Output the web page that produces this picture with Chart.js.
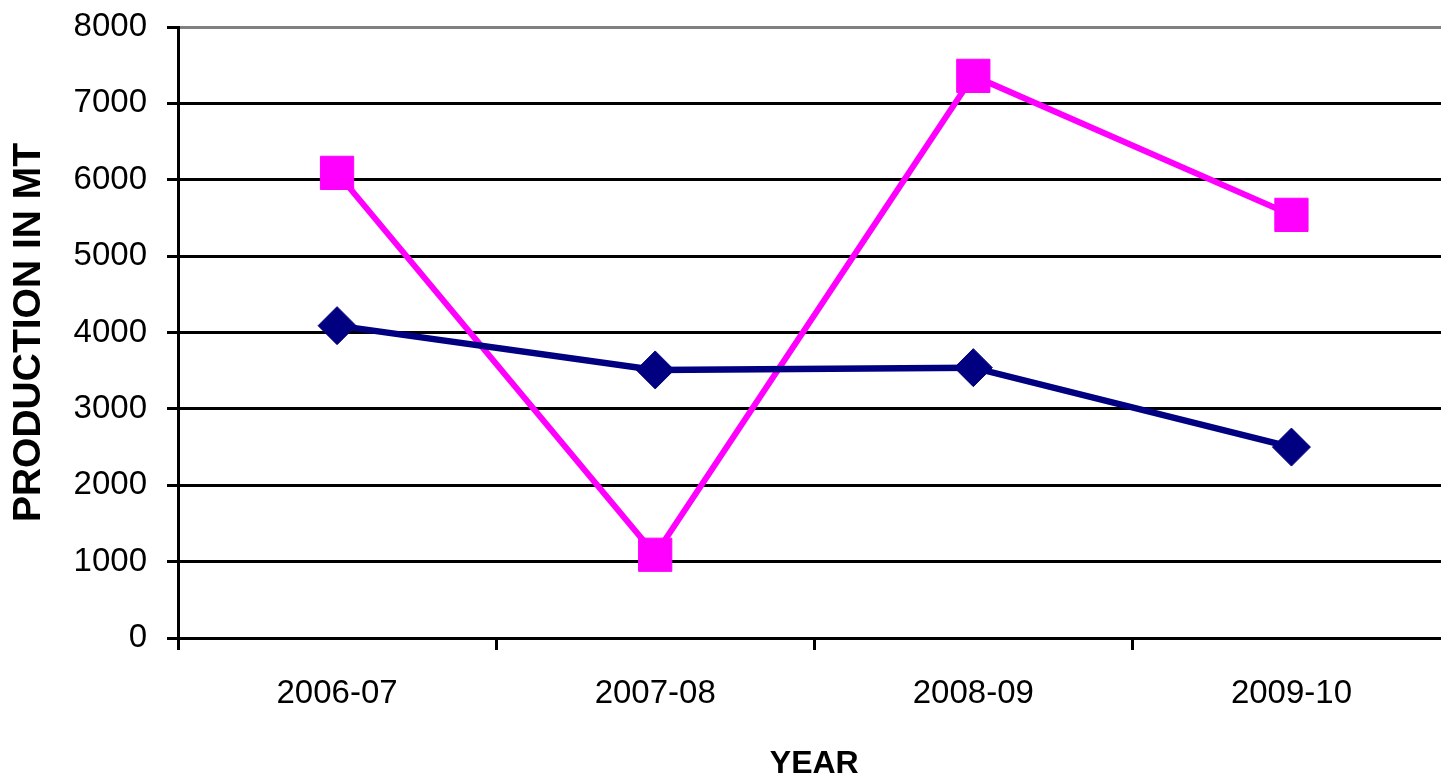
<!DOCTYPE html>
<html>
<head>
<meta charset="utf-8">
<script src="https://cdn.jsdelivr.net/npm/chart.js@4/dist/chart.umd.min.js"></script>
<style>
    html, body { margin: 0; padding: 0; background: #fff; overflow: hidden; }
    #wrap { width: 1441px; height: 784px; overflow: hidden; }
    canvas { display: block; }
</style>
</head>
<body>
<div id="wrap"><canvas id="chart_production" width="1475" height="784" style="width:1475px;height:784px"></canvas></div>
<script>
const years = ["2006-07", "2007-08", "2008-09", "2009-10"];
const navy_series = [4090, 3510, 3540, 2500];
const pink_series = [6090, 1090, 7360, 5540];
const y_ticks = [0, 1000, 2000, 3000, 4000, 5000, 6000, 7000, 8000];

const font_family = "'Liberation Sans', Arial, sans-serif";

new Chart(document.getElementById("chart_production"), {
    type: "line",
    data: {
        labels: years,
        datasets: [
            {
                label: "Series 1",
                data: navy_series,
                borderColor: "#000080",
                backgroundColor: "#000080",
                borderWidth: 6.5,
                pointStyle: "rectRot",
                pointRadius: 19,
                pointBorderWidth: 1,
                tension: 0
            },
            {
                label: "Series 2",
                data: pink_series,
                borderColor: "#ff00ff",
                backgroundColor: "#ff00ff",
                borderWidth: 6,
                pointStyle: "rect",
                pointRadius: 23.5,
                pointBorderWidth: 1,
                tension: 0
            }
        ]
    },
    options: {
        responsive: false,
        animation: false,
        devicePixelRatio: 1,
        layout: { padding: { top: 27, right: 0, bottom: 0, left: 0 } },
        plugins: {
            legend: { display: false },
            tooltip: { enabled: false }
        },
        scales: {
            x: {
                offset: true,
                afterFit: s => { s.height = 146; s.paddingLeft = 0; s.paddingRight = 0; },
                grid: {
                    offset: true,
                    drawOnChartArea: false,
                    tickLength: 12,
                    tickWidth: 3,
                    tickColor: "#000"
                },
                border: { display: false },
                ticks: {
                    color: "#000",
                    padding: 24,
                    font: { family: font_family, size: 33 }
                },
                title: {
                    display: true,
                    text: "YEAR",
                    color: "#000",
                    padding: { top: 0, bottom: 1 },
                    font: { family: font_family, size: 32, weight: "bold" }
                }
            },
            y: {
                min: 0,
                max: 8000,
                afterFit: s => { s.width = 178; s.paddingTop = 0; s.paddingBottom = 0; },
                afterBuildTicks: s => { s.ticks = y_ticks.map(v => ({ value: v })); },
                grid: {
                    color: ctx => (ctx.tick && ctx.tick.value === 8000) ? "#808080" : "#000",
                    lineWidth: 3,
                    tickLength: 11,
                    tickColor: "#000",
                    tickWidth: 3
                },
                border: { color: "#000", width: 3 },
                ticks: {
                    color: "#000",
                    padding: 20,
                    font: { family: font_family, size: 33 },
                    callback: v => String(v)
                },
                title: {
                    display: true,
                    text: "PRODUCTION IN MT",
                    color: "#000",
                    padding: { top: 6, bottom: 0 },
                    font: { family: font_family, size: 39, weight: "bold" }
                }
            }
        }
    }
});
</script>
</body>
</html>
